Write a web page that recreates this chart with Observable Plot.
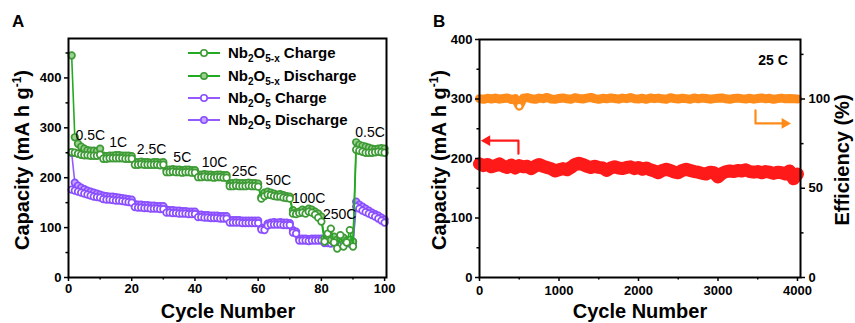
<!DOCTYPE html>
<html><head><meta charset="utf-8">
<script src="https://cdn.jsdelivr.net/npm/d3@7"></script>
<script src="https://cdn.jsdelivr.net/npm/@observablehq/plot@0.6"></script>
<style>
body{margin:0;background:#fff;font-family:"Liberation Sans",Arial,sans-serif;}
#wrap{display:flex;width:855px;height:323px;overflow:hidden;}
svg{overflow:visible;}
</style></head><body><div id="wrap"></div>
<script>
// ---------- Panel A: rate capability (cycles 1..100) ----------
const nb2o5x_discharge = [445,281,268,262,258,255,254,254,253,258,
  244,243,244,244,245,245,244,244,244,243,
  231,231,232,231,231,230,231,231,230,231,
  216,216,217,216,216,215,216,216,215,215,
  206,206,207,206,206,205,206,206,205,205,
  189,189,190,189,189,189,190,189,189,188,
  161,170,172,170,168,166,167,165,163,162,
  135,130,132,136,134,138,136,132,128,122,
  78,80,75,82,76,78,80,74,76,72,
  271,266,264,262,260,258,257,258,259,258];
const nb2o5x_charge = [251,250,248,246,245,245,244,244,244,246,
  238,238,239,239,239,239,239,238,238,238,
  226,226,227,226,226,226,226,226,225,226,
  211,211,212,211,211,210,211,211,210,210,
  201,201,202,201,201,200,201,201,200,200,
  183,183,184,183,183,183,184,183,183,182,
  158,163,166,165,163,162,162,160,159,158,
  128,127,129,130,128,132,130,126,120,112,
  72,88,98,70,58,85,62,70,95,62,
  256,254,252,250,250,250,251,252,251,250];
const nb2o5_discharge = [250,190,184,180,177,174,172,170,168,166,
  164,163,162,162,161,160,159,158,157,156,
  147,146,146,145,145,144,144,143,143,143,
  136,135,135,134,134,133,133,132,132,132,
  126,126,125,125,124,124,124,123,123,123,
  115,115,115,115,114,114,114,114,114,114,
  100,99,108,110,111,110,111,110,110,109,
  95,92,78,78,78,77,78,78,78,78,
  72,72,71,72,72,71,72,72,71,72,
  152,146,142,138,134,130,127,124,120,116];
const nb2o5_charge = [176,174,172,170,168,166,164,162,161,160,
  157,156,156,155,154,154,153,152,151,150,
  141,140,140,139,139,138,138,138,137,137,
  130,130,129,129,128,128,128,127,127,127,
  121,121,120,120,119,119,119,118,118,118,
  110,110,110,110,109,109,109,109,109,109,
  96,95,104,106,106,106,106,105,105,105,
  90,88,74,74,74,73,74,74,74,74,
  69,69,68,69,69,68,69,69,68,69,
  142,138,134,131,128,125,122,118,114,110];
const rateLabels     = ["0.5C","1C","2.5C","5C","10C","25C","50C","100C","250C","0.5C"];
const rateLabelCycle = [6.9,15.7,26.3,36,46.2,55.7,66.4,76,85.8,95.4];
const rateLabelCap   = [285,270,257,240,230,213,195,159,126,290];
const legendLabelsA  = [["Nb","2","O","5-x"," Charge"],["Nb","2","O","5-x"," Discharge"],["Nb","2","O","5"," Charge"],["Nb","2","O","5"," Discharge"]];

// ---------- Panel B: long-term cycling at 25 C ----------
const cyclesB = [0,50,100,150,200,250,300,350,400,450,500,550,600,650,700,750,800,850,900,950,
  1000,1050,1100,1150,1200,1250,1300,1350,1400,1450,1500,1550,1600,1650,1700,1750,1800,1850,1900,1950,
  2000,2050,2100,2150,2200,2250,2300,2350,2400,2450,2500,2550,2600,2650,2700,2750,2800,2850,2900,2950,
  3000,3050,3100,3150,3200,3250,3300,3350,3400,3450,3500,3550,3600,3650,3700,3750,3800,3850,3900,3950,4000];
const capacityB = [191,188,190,186,188,191,187,185,189,184,188,186,187,183,187,190,187,185,183,179,
  181,183,181,185,190,192,190,187,185,187,185,184,180,184,186,184,183,185,186,183,
  185,182,184,181,179,176,180,182,180,177,176,180,182,180,178,177,175,174,177,176,
  169,175,178,179,178,180,179,181,178,177,178,176,178,177,175,177,176,174,179,166,174];
const efficiencyB = [100.2,99.8,100.4,100,100.5,99.9,100.3,100.6,99.7,100.2,96,100.4,100.8,100.1,99.8,100.5,100.2,100.9,100,99.8,
  100.3,100.6,100.1,99.9,100.7,100.3,100,100.5,100.9,100.2,99.8,100.4,100.1,100.6,100.3,99.9,100.5,100.2,100.8,100.1,
  100,100.4,99.8,100.6,100.2,100.5,100.1,99.9,100.7,100.3,100,100.4,100.2,99.8,100.6,100.1,100.5,100.3,99.9,100.2,
  100.4,100.6,100.1,99.8,100.3,100.5,100.2,100,100.4,99.9,100.3,100.6,100.1,100.4,99.8,100.2,100.5,100.1,100.3,100.2,100];
const effTicks = [0,50,100];
const effMinor = [25,75,125];
// annotation arrows (cycle, capacity-axis value)
const arrowRed    = [[490,208],[490,230],[95,230]];
const arrowOrange = [[3472,281],[3472,259],[3840,259]];

// ---------- colours ----------
const green = "#3d9a35", greenLine = "#22aa22", greenFill = "#9bd18f";
const purple = "#8a4dff", purpleLine = "#9459ff", purpleFill = "#c2a6ff";
const orange = "#ff8c1a", red = "#ff1a1a";

const font = "'Liberation Sans', Arial, sans-serif";
const toRows = arr => arr.map((v, i) => ({cycle: i + 1, cap: v}));

function seriesMarks(vals, lineColor, stroke, fill) {
  const rows = toRows(vals);
  return [
    Plot.line(rows, {x: "cycle", y: "cap", stroke: lineColor, strokeWidth: 1.6}),
    Plot.dot(rows, {x: "cycle", y: "cap", r: 3.3, stroke, strokeWidth: 1.7, fill})
  ];
}

const rateRows = rateLabels.map((t, i) => ({t, x: rateLabelCycle[i], y: rateLabelCap[i]}));

const plotA = Plot.plot({
  width: 427, height: 323,
  marginLeft: 68, marginRight: 41, marginTop: 38, marginBottom: 46,
  x: {domain: [0, 100.6]},
  y: {domain: [0, 479]},
  style: {fontFamily: font, fontSize: "13px", fontWeight: "bold", color: "#000", background: "white"},
  marks: [
    ...seriesMarks(nb2o5_discharge, purpleLine, purple, purpleFill),
    ...seriesMarks(nb2o5_charge, purpleLine, purple, "white"),
    ...seriesMarks(nb2o5x_discharge, greenLine, green, greenFill),
    ...seriesMarks(nb2o5x_charge, greenLine, green, "white"),
    Plot.text(rateRows, {x: "x", y: "y", text: "t", fontSize: 14, fontWeight: "normal", fill: "#000"}),
    Plot.frame({stroke: "#000", strokeWidth: 2}),
    Plot.axisX([0,20,40,60,80,100], {tickSize: 4, tickPadding: 2, strokeWidth: 1.5, label: null, fontWeight: "bold", fontSize: 13}),
    Plot.axisX([10,30,50,70,90], {tickSize: 2.5, strokeWidth: 1.5, tickFormat: () => "", label: null}),
    Plot.axisY([0,100,200,300,400], {tickSize: 4, tickPadding: 3, strokeWidth: 1.5, label: null, fontWeight: "bold", fontSize: 13}),
    Plot.axisY([50,150,250,350,450], {tickSize: 2.5, strokeWidth: 1.5, tickFormat: () => "", label: null})
  ]
});

const rowsCap = cyclesB.map((c, i) => ({c, v: capacityB[i]}));
const rowsEff = cyclesB.map((c, i) => ({c, v: efficiencyB[i] * 3}));
const arrowRows = a => a.map(([c, v]) => ({c, v}));

const plotB = Plot.plot({
  width: 428, height: 323,
  marginLeft: 52, marginRight: 55, marginTop: 39, marginBottom: 46,
  x: {domain: [0, 4038]},
  y: {domain: [0, 400]},
  style: {fontFamily: font, fontSize: "13px", fontWeight: "bold", color: "#000", background: "white"},
  marks: [
    Plot.line(rowsEff, {x: "c", y: "v", stroke: orange, strokeWidth: 9}),
    Plot.dot(rowsEff, {x: "c", y: "v", r: 3, stroke: orange, fill: "white", strokeWidth: 1.5, filter: d => d.v < 295}),
    Plot.line(rowsCap, {x: "c", y: "v", stroke: red, strokeWidth: 13, strokeLinejoin: "round"}),
    Plot.line(arrowRows(arrowRed), {x: "c", y: "v", stroke: red, strokeWidth: 2.2}),
    Plot.dot(arrowRows(arrowRed).slice(-1), {x: "c", y: "v", symbol: "triangle", r: 4, fill: red, rotate: -90}),
    Plot.line(arrowRows(arrowOrange), {x: "c", y: "v", stroke: orange, strokeWidth: 2.2}),
    Plot.dot(arrowRows(arrowOrange).slice(-1), {x: "c", y: "v", symbol: "triangle", r: 4, fill: orange, rotate: 90}),
    Plot.frame({stroke: "#000", strokeWidth: 2}),
    Plot.axisX([0,1000,2000,3000,4000], {tickSize: 4, tickPadding: 4, strokeWidth: 1.5, tickFormat: d => String(d), label: null, fontWeight: "bold", fontSize: 13}),
    Plot.axisX([500,1500,2500,3500], {tickSize: 2.5, strokeWidth: 1.5, tickFormat: () => "", label: null}),
    Plot.axisY([0,100,200,300,400], {tickSize: 4, tickPadding: 3, strokeWidth: 1.5, label: null, fontWeight: "bold", fontSize: 13}),
    Plot.axisY([50,150,250,350], {tickSize: 2.5, strokeWidth: 1.5, tickFormat: () => "", label: null}),
    Plot.axisY(effTicks.map(d => d * 3), {anchor: "right", tickSize: 4, tickPadding: 4, strokeWidth: 1.5, tickFormat: d => String(d / 3), label: null, fontWeight: "bold", fontSize: 13}),
    Plot.axisY(effMinor.map(d => d * 3), {anchor: "right", tickSize: 2.5, strokeWidth: 1.5, tickFormat: () => "", label: null})
  ]
});

const wrap = document.getElementById("wrap");
wrap.appendChild(plotA);
wrap.appendChild(plotB);

function addText(svg, x, y, size, parts, opts = {}) {
  const t = d3.select(svg).append("text")
    .attr("x", x).attr("y", y)
    .attr("font-family", font).attr("font-weight", "bold").attr("font-size", size)
    .attr("text-anchor", opts.anchor || "start").attr("fill", "#000");
  if (opts.rotate) t.attr("transform", `rotate(${opts.rotate},${x},${y})`);
  parts.forEach(p => {
    const s = t.append("tspan").text(p.t);
    if (p.size) s.attr("font-size", p.size);
    if (p.dy) s.attr("dy", p.dy);
  });
  return t;
}
const capTitle = [{t: "Capacity (mA h g"}, {t: "-1", size: 12, dy: -8}, {t: ")", dy: 8}];

// Panel A decorations
addText(plotA, 12, 27, 17, [{t: "A"}]);
addText(plotA, 29, 160, 20, capTitle, {anchor: "middle", rotate: -90});
addText(plotA, 228, 318, 20, [{t: "Cycle Number"}], {anchor: "middle"});
const lg = d3.select(plotA).append("g");
const legendStyle = [[greenLine, green, "white"], [greenLine, green, greenFill], [purpleLine, purple, "white"], [purpleLine, purple, purpleFill]];
const legendY = [53, 76, 98, 120];
legendLabelsA.forEach((parts, i) => {
  const [lc, sc, fc] = legendStyle[i];
  const y = legendY[i];
  lg.append("line").attr("x1", 188).attr("x2", 220).attr("y1", y).attr("y2", y).attr("stroke", lc).attr("stroke-width", 2);
  lg.append("circle").attr("cx", 204).attr("cy", y).attr("r", 3.2).attr("stroke", sc).attr("stroke-width", 1.6).attr("fill", fc);
  addText(plotA, 228, y + 5, 15, [
    {t: parts[0]}, {t: parts[1], size: 10, dy: 4}, {t: parts[2], dy: -4}, {t: parts[3], size: 10, dy: 4}, {t: parts[4], dy: -4}
  ]);
});

// Panel B decorations
addText(plotB, 6, 27, 17, [{t: "B"}]);
addText(plotB, 19, 160, 20, capTitle, {anchor: "middle", rotate: -90});
addText(plotB, 213, 318, 20, [{t: "Cycle Number"}], {anchor: "middle"});
addText(plotB, 422, 160, 20, [{t: "Efficiency (%)"}], {anchor: "middle", rotate: -90});
addText(plotB, 346, 65, 14, [{t: "25 C"}], {anchor: "middle"});
</script></body></html>
